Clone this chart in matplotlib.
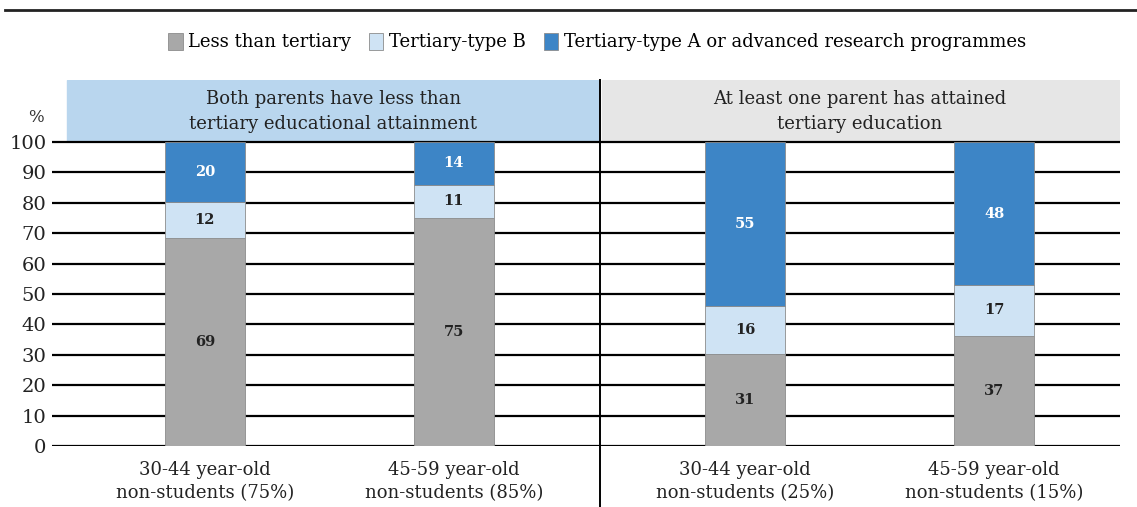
import matplotlib.pyplot as plt
from matplotlib.patches import Patch, Rectangle
from matplotlib.lines import Line2D
import numpy as np

plt.rcParams["font.family"] = ["DejaVu Serif"]

groups = ["Both parents have less than\ntertiary educational attainment",
          "At least one parent has attained\ntertiary education"]
categories = ["30-44 year-old\nnon-students (75%)", "45-59 year-old\nnon-students (85%)",
              "30-44 year-old\nnon-students (25%)", "45-59 year-old\nnon-students (15%)"]
series = ["Less than tertiary", "Tertiary-type B",
          "Tertiary-type A or advanced research programmes"]
less_than_tertiary = [69, 75, 31, 37]
tertiary_b = [12, 11, 16, 17]
tertiary_a = [20, 14, 55, 48]

colors = ["#a8a8a8", "#cfe3f4", "#3d85c6"]
text_colors = ["#222222", "#222222", "white"]

fig = plt.figure(figsize=(11.37, 5.07), dpi=100)
ax = fig.add_axes([52 / 1137, 61 / 507, 1068 / 1137, 366 / 507])

gap = 0.17
x = np.arange(4) + gap * (np.arange(4) >= 2)
sep = (x[1] + x[2]) / 2
ax.set_xlim(-0.614, 3.675)
ax.set_ylim(0, 120.4)

# header boxes
ax.add_patch(Rectangle((-0.554, 100.3), sep - 0.008 + 0.554, 20.1, color="#b9d6ee", zorder=1))
ax.add_patch(Rectangle((sep + 0.008, 100.3), 3.675 - sep, 20.1, color="#e6e6e6", zorder=1))
ax.text((-0.554 + sep) / 2, 110.0, groups[0], ha="center", va="center", fontsize=13,
        color="#222222", linespacing=1.45)
ax.text((sep + 3.675) / 2, 110.0, groups[1], ha="center", va="center", fontsize=13,
        color="#222222", linespacing=1.45)

# gridlines
for t in range(0, 101, 10):
    ax.axhline(t, color="black", lw=1.6, zorder=1)

vals = np.array([less_than_tertiary, tertiary_b, tertiary_a], dtype=float)
heights = vals / vals.sum(axis=0) * 100
bottom = np.zeros(4)
for i in range(3):
    ax.bar(x, heights[i], 0.32, bottom=bottom, color=colors[i], edgecolor="#8c8c8c",
           lw=0.6, zorder=2)
    for j in range(4):
        ax.text(x[j], bottom[j] + heights[i][j] / 2, str(int(vals[i][j])), ha="center",
                va="center", fontsize=10.5, fontweight="bold", color=text_colors[i], zorder=3)
    bottom += heights[i]

ax.plot([sep, sep], [-20, 120.4], color="black", lw=1.4, clip_on=False, zorder=4)

ax.set_yticks(range(0, 101, 10))
ax.set_yticklabels([str(t) for t in range(0, 101, 10)], fontsize=14, color="#222222")
ax.tick_params(axis="y", length=0, pad=4)
ax.set_xticks(x)
ax.set_xticklabels(categories, fontsize=13, color="#222222", linespacing=1.35)
ax.tick_params(axis="x", length=0, pad=11)
for s in ax.spines.values():
    s.set_visible(False)
ax.text(-0.68, 108.0, "%", ha="center", va="center", fontsize=12, color="#333333")

fig.add_artist(Line2D([5 / 1137, 1], [497 / 507, 497 / 507], color="#222222", lw=2))
handles = [Patch(facecolor=c, edgecolor="#8c8c8c", lw=0.6) for c in colors]
fig.legend(handles, series, loc="center", bbox_to_anchor=(597 / 1137, 1 - 42 / 507), ncol=3,
           frameon=False, fontsize=13, handlelength=0.8, handleheight=1.1, handletextpad=0.3,
           columnspacing=1.0)

fig.savefig("out.png", dpi=100)
